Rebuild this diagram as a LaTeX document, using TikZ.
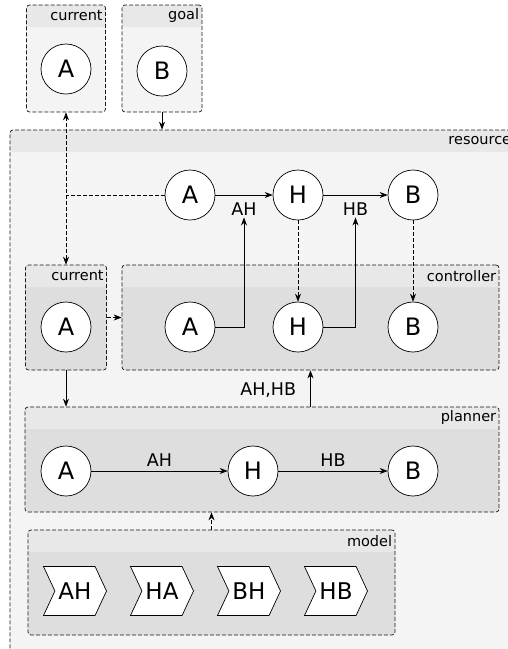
\documentclass[tikz,border=0pt]{standalone}
\usepackage{fontspec}
\setmainfont{DejaVu Sans}
\usetikzlibrary{shapes.symbols,arrows.meta}
\definecolor{headgray}{HTML}{E8E8E8}
\definecolor{outergray}{HTML}{F4F4F4}
\definecolor{innergray}{HTML}{DEDEDE}
\begin{document}
\begin{tikzpicture}[
    x=1pt, y=-1pt,
    panel/.style={draw=black!90, dash pattern=on 4pt off 2pt, line width=0.7pt,
        rounded corners=3pt, fill=#1, inner sep=0pt,
        path picture={\fill[headgray] (path picture bounding box.north west)
            rectangle ([yshift=-22pt]path picture bounding box.north east);}},
    hlabel/.style={anchor=east, xshift=-2pt, yshift=-11pt, inner sep=1pt,
        font=\fontsize{14.5}{16}\selectfont},
    state/.style={circle, draw, line width=0.7pt, fill=white, minimum size=50pt,
        inner sep=0pt, font=\fontsize{24}{26}\selectfont},
    action/.style={signal, signal from=west, signal to=east, signal pointer angle=130,
        draw, line width=0.7pt, fill=white, minimum width=63pt, minimum height=49pt,
        inner sep=0pt, font=\fontsize{23}{26}\selectfont},
    elabel/.style={inner sep=2pt, font=\fontsize{17.5}{20}\selectfont},
    link/.style={-{Stealth[length=8pt,width=6pt]}, line width=0.7pt},
    dlink/.style={link, dash pattern=on 4pt off 2pt}
]
\useasboundingbox (0,0) rectangle (508,649);
\clip (0,0) rectangle (508,649);

% boxes
\node[panel=outergray, minimum width=504pt, minimum height=580pt,
    label={[hlabel]north east:resource}] (resource) at (262,420) {};
\node[panel=outergray, minimum width=79pt, minimum height=107pt,
    label={[hlabel]north east:current}] (curtop) at (66,58.5) {};
\node[panel=outergray, minimum width=80pt, minimum height=107pt,
    label={[hlabel]north east:goal}] (goal) at (162,58.5) {};
\node[panel=innergray, minimum width=81pt, minimum height=105pt,
    label={[hlabel]north east:current}] (curin) at (66,317.5) {};
\node[panel=innergray, minimum width=377pt, minimum height=105pt,
    label={[hlabel]north east:controller}] (ctrl) at (310.5,317.5) {};
\node[panel=innergray, minimum width=474pt, minimum height=105pt,
    label={[hlabel]north east:planner}] (planner) at (262,459.5) {};
\node[panel=innergray, minimum width=367pt, minimum height=105pt,
    label={[hlabel]north east:model}] (model) at (211.5,582.5) {};

% states
\node[state] (curA) at (66,69) {A};
\node[state] (goalB) at (162,71) {B};
\node[state] (tA) at (190,195) {A};
\node[state] (tH) at (298,195) {H};
\node[state] (tB) at (413,195) {B};
\node[state] (inA) at (66,327) {A};
\node[state] (cA) at (190,327) {A};
\node[state] (cH) at (298,327) {H};
\node[state] (cB) at (413,327) {B};
\node[state] (pA) at (66,471) {A};
\node[state] (pH) at (253,471) {H};
\node[state] (pB) at (413,471) {B};

% actions
\node[action] (mAH) at (75,591) {AH};
\node[action] (mHA) at (162,591) {HA};
\node[action] (mBH) at (249,591) {BH};
\node[action] (mHB) at (336,591) {HB};

% links
\draw[link] (goal) -- (goal |- resource.north);
\draw[dlink, {Stealth[length=8pt,width=6pt]}-{Stealth[length=8pt,width=6pt]}] (curtop) -- (curin);
\draw[dash pattern=on 4pt off 2pt, line width=0.7pt] (tA) -- (tA -| curtop);
\draw[link] (tA) -- node[elabel, below=5pt] (lAH) {AH} (tH);
\draw[link] (tH) -- node[elabel, below=5pt] (lHB) {HB} (tB);
\draw[link] (cA) -| (lAH);
\draw[link] (cH) -| (lHB);
\draw[dlink] (tH) -- (cH);
\draw[dlink] (tB) -- (cB);
\draw[dlink] (curin) -- (ctrl);
\draw[link] (curin) -- (curin |- planner.north);
\draw[link] (planner.north -| ctrl) -- node[elabel, left=12pt, pos=0.45] (lplan) {AH,HB} (ctrl);
\draw[link] (pA) -- node[elabel, above=2pt] (pAH) {AH} (pH);
\draw[link] (pH) -- node[elabel, above=2pt] (pHB) {HB} (pB);
\draw[dlink] (model) -- (model |- planner.south);
\end{tikzpicture}
\end{document}
